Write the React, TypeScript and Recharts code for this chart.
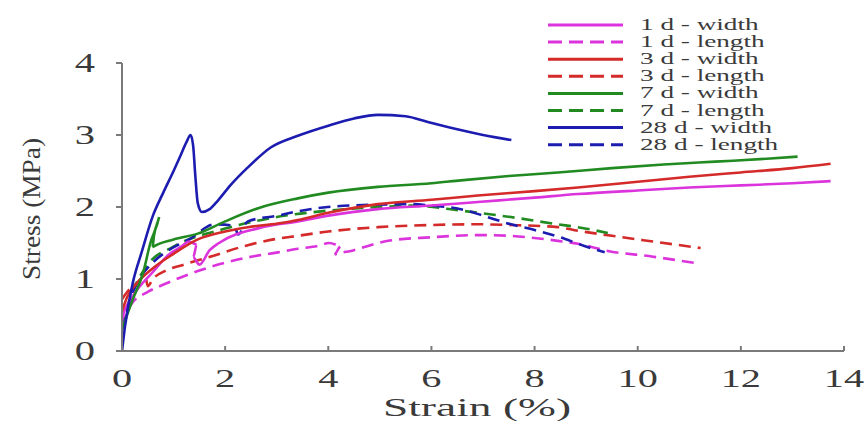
import { LineChart, Line, XAxis, YAxis } from "recharts";

const FONT = "Liberation Serif, Times New Roman, serif";
const TEXT = "#3a3a3a";
const AXIS = "#7a7a7a";

const xTicks = [0, 2, 4, 6, 8, 10, 12, 14];
const yTicks = [0, 1, 2, 3, 4];

// strain (%) / stress (MPa)
const d1WidthX = [0, 0.02, 0.2, 0.59, 0.91, 1.15, 1.3, 1.45, 1.38, 1.5, 1.7, 1.88, 2.67, 3.41, 4.0, 4.96, 6.0, 6.9, 8.0, 8.84, 10.0, 11.0, 12.0, 13.0, 13.74];
const d1WidthY = [0.4, 0.49, 0.75, 1.09, 1.34, 1.45, 1.52, 1.48, 1.3, 1.2, 1.4, 1.5, 1.71, 1.8, 1.88, 1.97, 2.02, 2.07, 2.13, 2.18, 2.23, 2.27, 2.3, 2.33, 2.36];

const d1LengthX = [0, 0.18, 0.5, 0.83, 1.47, 2.44, 3.02, 3.41, 3.8, 4.02, 4.25, 4.12, 4.44, 4.77, 5.16, 6.0, 6.9, 7.5, 8.0, 8.45, 8.84, 9.42, 10.3, 11.22];
const d1LengthY = [0.35, 0.65, 0.82, 0.93, 1.11, 1.3, 1.37, 1.42, 1.46, 1.5, 1.46, 1.34, 1.39, 1.46, 1.53, 1.58, 1.61, 1.6, 1.57, 1.53, 1.49, 1.39, 1.31, 1.21];

const d3WidthX = [0, 0.1, 0.3, 0.6, 1.0, 1.47, 2.0, 2.44, 3.02, 3.41, 4.0, 4.96, 6.0, 6.9, 8.0, 8.84, 10.0, 11.0, 12.0, 13.0, 13.74];
const d3WidthY = [0.55, 0.75, 0.95, 1.15, 1.35, 1.55, 1.66, 1.72, 1.77, 1.82, 1.92, 2.04, 2.1, 2.16, 2.22, 2.27, 2.35, 2.42, 2.48, 2.54, 2.6];

const d3LengthX = [0, 0.1, 0.3, 0.45, 0.5, 0.6, 0.83, 1.2, 1.67, 2.44, 3.02, 3.41, 4.0, 4.96, 6.0, 6.9, 7.5, 8.45, 8.84, 9.5, 10.3, 11.22];
const d3LengthY = [0.72, 0.82, 0.95, 1.05, 0.9, 1.0, 1.11, 1.2, 1.3, 1.47, 1.56, 1.6, 1.66, 1.72, 1.75, 1.76, 1.75, 1.72, 1.67, 1.6, 1.52, 1.43];

const d7WidthX = [0, 0.2, 0.41, 0.55, 0.72, 0.62, 0.59, 1.0, 1.47, 2.0, 2.67, 3.41, 4.0, 4.96, 6.0, 6.57, 7.5, 8.45, 9.5, 10.5, 11.5, 12.5, 13.1];
const d7WidthY = [0.3, 0.7, 1.09, 1.5, 1.86, 1.6, 1.44, 1.55, 1.63, 1.8, 1.99, 2.12, 2.2, 2.28, 2.33, 2.37, 2.43, 2.48, 2.54, 2.59, 2.63, 2.67, 2.7];

const d7LengthX = [0, 0.2, 0.5, 1.0, 2.0, 3.0, 4.0, 5.0, 5.6, 6.57, 7.54, 8.45, 8.84, 9.42];
const d7LengthY = [0.3, 0.8, 1.2, 1.45, 1.7, 1.86, 1.95, 2.0, 2.02, 1.95, 1.86, 1.76, 1.72, 1.64];

const d28WidthX = [0, 0.06, 0.21, 0.38, 0.6, 0.8, 1.0, 1.12, 1.25, 1.33, 1.38, 1.42, 1.47, 1.55, 1.7, 1.86, 2.1, 2.44, 2.89, 3.41, 4.0, 4.5, 4.96, 5.5, 5.93, 6.5, 7.0, 7.55];
const d28WidthY = [0, 0.35, 0.95, 1.37, 1.88, 2.2, 2.5, 2.69, 2.9, 3.0, 2.85, 2.45, 2.05, 1.93, 1.97, 2.09, 2.3, 2.55, 2.83, 2.99, 3.13, 3.23, 3.28, 3.26, 3.18, 3.08, 3.0, 2.93];

const d28LengthX = [0, 0.1, 0.3, 0.63, 0.95, 1.3, 1.8, 2.18, 2.25, 2.44, 3.02, 3.41, 3.99, 4.8, 5.6, 6.0, 6.57, 7.0, 7.54, 8.0, 8.58, 8.84, 9.36];
const d28LengthY = [0.3, 0.6, 0.95, 1.25, 1.42, 1.55, 1.76, 1.74, 1.62, 1.8, 1.88, 1.94, 2.0, 2.03, 2.04, 2.02, 1.97, 1.88, 1.76, 1.68, 1.56, 1.49, 1.37];

const MAGENTA = "#dc34dc";
const RED = "#d42a2a";
const GREEN = "#218a21";
const BLUE = "#1c1cb0";

const zip = (xs: number[], ys: number[]) => xs.map((x, i) => ({ x, y: ys[i] }));

const series = [
  { name: "1 d - width", color: MAGENTA, dashed: false, data: zip(d1WidthX, d1WidthY) },
  { name: "1 d - length", color: MAGENTA, dashed: true, data: zip(d1LengthX, d1LengthY) },
  { name: "3 d - width", color: RED, dashed: false, data: zip(d3WidthX, d3WidthY) },
  { name: "3 d - length", color: RED, dashed: true, data: zip(d3LengthX, d3LengthY) },
  { name: "7 d - width", color: GREEN, dashed: false, data: zip(d7WidthX, d7WidthY) },
  { name: "7 d - length", color: GREEN, dashed: true, data: zip(d7LengthX, d7LengthY) },
  { name: "28 d - width", color: BLUE, dashed: false, data: zip(d28WidthX, d28WidthY) },
  { name: "28 d - length", color: BLUE, dashed: true, data: zip(d28LengthX, d28LengthY) },
];

// dashed first so the solid curves sit on top
const drawOrder = [...series.filter(s => s.dashed), ...series.filter(s => !s.dashed)];

const textStyle = { fontFamily: FONT, fill: TEXT };

function XTick({ x, y, payload }: any) {
  return (
    <g>
      <line x1={x} x2={x} y1={y} y2={y - 5} stroke={AXIS} strokeWidth={2} />
      <text transform={`translate(${x},${y + 36}) scale(1.55,1)`} textAnchor="middle" fontSize={26} style={textStyle}>
        {payload.value}
      </text>
    </g>
  );
}

function YTick({ x, y, payload }: any) {
  return (
    <g>
      <line x1={x - 6} x2={x} y1={y} y2={y} stroke={AXIS} strokeWidth={2} />
      <text transform={`translate(${x - 27},${y + 9}) scale(1.5,1)`} textAnchor="end" fontSize={27} style={textStyle}>
        {payload.value}
      </text>
    </g>
  );
}

const XLabel = () => (
  <text transform="translate(477,416) scale(1.75,1)" textAnchor="middle" fontSize={26} style={textStyle}>
    Strain (%)
  </text>
);

const YLabel = () => (
  <text
    transform="translate(40,209) rotate(-90)"
    textAnchor="middle"
    fontSize={26}
    textLength={142}
    lengthAdjust="spacingAndGlyphs"
    style={textStyle}
  >
    Stress (MPa)
  </text>
);

function LegendBox() {
  return (
    <svg width={260} height={160} style={{ position: "absolute", left: 540, top: 0 }}>
      {series.map((s, i) => {
        const cy = 25 + i * 17.1;
        return (
          <g key={s.name}>
            <line x1={8} x2={83} y1={cy} y2={cy} stroke={s.color} strokeWidth={3} strokeDasharray={s.dashed ? "14 7" : undefined} />
            <text transform={`translate(100,${cy + 5}) scale(1.6,1)`} fontSize={17} style={textStyle}>
              {s.name}
            </text>
          </g>
        );
      })}
    </svg>
  );
}

export default function App() {
  return (
    <div style={{ position: "absolute", left: 0, top: 0, width: 864, height: 421, background: "#fff" }}>
      <LineChart width={864} height={421} margin={{ top: 63, right: 20, bottom: 0, left: 0 }}>
        <XAxis
          type="number"
          dataKey="x"
          domain={[0, 14]}
          ticks={xTicks}
          height={70}
          stroke={AXIS}
          strokeWidth={2}
          tickLine={false}
          tickSize={0}
          tickMargin={0}
          tick={<XTick />}
          label={{ content: <XLabel /> }}
          allowDataOverflow
        />
        <YAxis
          type="number"
          domain={[0, 4]}
          ticks={yTicks}
          width={122}
          stroke={AXIS}
          strokeWidth={2}
          tickLine={false}
          tickSize={0}
          tickMargin={0}
          tick={<YTick />}
          label={{ content: <YLabel /> }}
        />
        {drawOrder.map(s => (
          <Line
            key={s.name}
            data={s.data}
            dataKey="y"
            type="monotone"
            stroke={s.color}
            strokeWidth={2.6}
            strokeDasharray={s.dashed ? "12 7" : undefined}
            dot={false}
            activeDot={false}
            isAnimationActive={false}
          />
        ))}
      </LineChart>
      <LegendBox />
    </div>
  );
}
